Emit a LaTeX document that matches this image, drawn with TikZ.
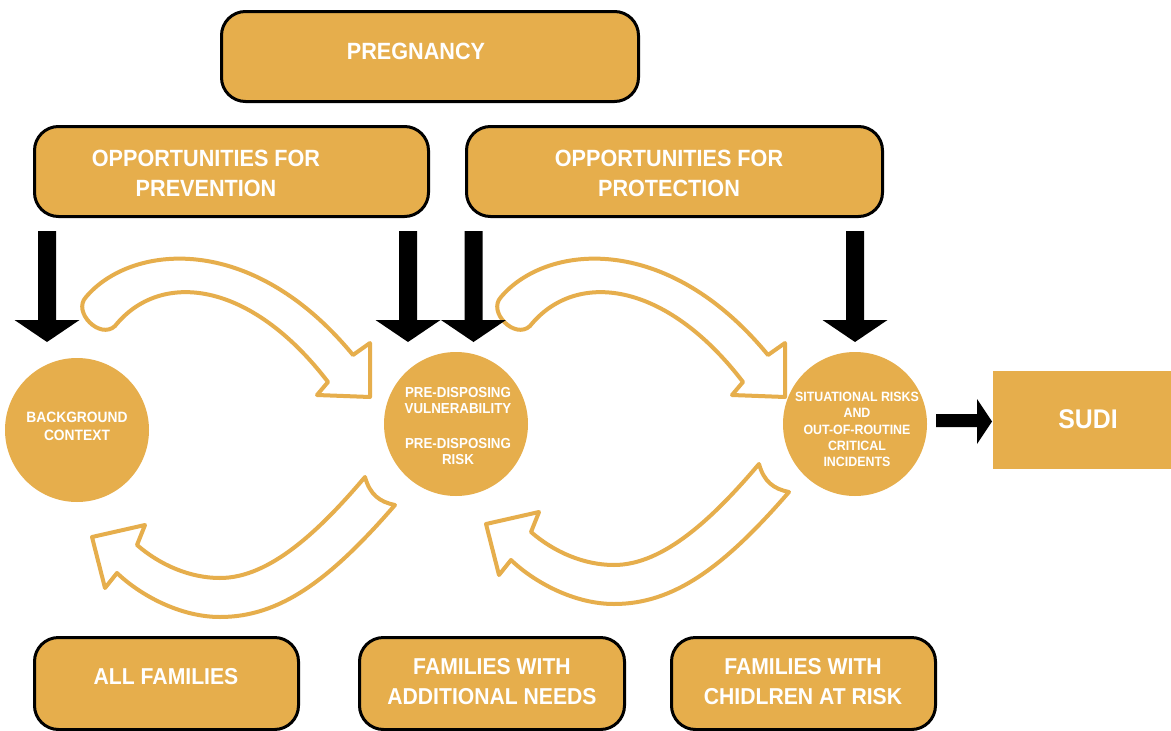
\documentclass[tikz,border=0pt]{standalone}
\usepackage{fontspec}
\setmainfont{Liberation Sans}[FakeStretch=0.92]
\definecolor{gold}{RGB}{230,174,76}
\begin{document}
\begin{tikzpicture}[x=1pt,y=-1pt,
  box/.style={draw=black, line width=3pt, fill=gold, rounded corners=24pt, inner sep=0pt},
  disc/.style={circle, fill=gold, minimum size=144pt, inner sep=0pt},
  flat/.style={fill=gold, inner sep=0pt},
  bigtxt/.style={text=white, align=center, inner sep=0pt, font=\bfseries\fontsize{23.5}{29.5}\selectfont},
  smalltxt/.style={text=white, align=center, inner sep=0pt, font=\bfseries\fontsize{15}{18}\selectfont},
  hollow/.style={draw=gold, fill=white, line width=4pt, line join=round},
  toparr/.pic={\draw[hollow] (86,297) .. controls (130,245) and (250,230) .. (353,355) -- (370,343) -- (370,397) -- (317,395) -- (328,382) .. controls (250,280) and (160,270) .. (115,326) .. controls (100,340) and (72,312) .. (86,297) -- cycle;},
  botarr/.pic={\draw[hollow] (365,477) .. controls (370,495) and (380,502) .. (395,505) .. controls (330,580) and (280,617) .. (220,617) .. controls (180,617) and (140,595) .. (117,573) -- (105,588) -- (92,537) -- (145,525) -- (137,545) .. controls (160,565) and (190,578) .. (220,578) .. controls (270,578) and (320,530) .. (365,477) -- cycle;},
  downarr/.pic={\fill[black] (-9,0) -- (9,0) -- (9,89) -- (32.5,89) -- (0,111) -- (-32.5,89) -- (-9,89) -- cycle;}
]
\useasboundingbox (0,0) rectangle (1171,731);
\fill[white] (0,0) rectangle (1171,731);

% boxes
\node[box, minimum width=417pt, minimum height=90pt] (preg) at (430,56.5) {};
\node[box, minimum width=394pt, minimum height=90pt] (prev) at (231.5,171.5) {};
\node[box, minimum width=416pt, minimum height=90pt] (prot) at (674.5,171.5) {};
\node[box, minimum width=264pt, minimum height=92pt] (allf) at (166.5,683.5) {};
\node[box, minimum width=265pt, minimum height=92pt] (addn) at (492,683.5) {};
\node[box, minimum width=264pt, minimum height=92pt] (risk) at (803.5,683.5) {};
\node[flat, minimum width=190pt, minimum height=98pt] (sudi) at (1088,420) {};

% texts
\node[bigtxt] (tpreg) at (416,51) {PREGNANCY};
\node[bigtxt] (tprev) at (206,173.5) {OPPORTUNITIES FOR\\PREVENTION};
\node[bigtxt] (tprot) at (669,173.5) {OPPORTUNITIES FOR\\PROTECTION};
\node[bigtxt, font=\bfseries\fontsize{23}{30}\selectfont] (tallf) at (166,677) {ALL FAMILIES};
\node[bigtxt, font=\bfseries\fontsize{23}{30}\selectfont] (taddn) at (492,682) {FAMILIES WITH\\ADDITIONAL NEEDS};
\node[bigtxt, font=\bfseries\fontsize{23}{30}\selectfont] (trisk) at (803,682) {FAMILIES WITH\\CHIDLREN AT RISK};
\node[bigtxt, font=\bfseries\fontsize{27}{30}\selectfont] (tsudi) at (1088,419) {SUDI};

% circles
\node[disc] (bg) at (77,430) {};
\node[disc] (pd) at (456,424) {};
\node[disc] (sr) at (855,424) {};
\node[smalltxt] (tbg) at (77,426) {BACKGROUND\\CONTEXT};
\node[smalltxt, font=\bfseries\fontsize{14.5}{16.5}\selectfont] (tpd) at (458,426) {PRE-DISPOSING\\VULNERABILITY\\[18pt]PRE-DISPOSING\\RISK};
\node[smalltxt, font=\bfseries\fontsize{13.5}{16.3}\selectfont] (tsr) at (857,429.5) {SITUATIONAL RISKS\\AND\\OUT-OF-ROUTINE\\CRITICAL\\INCIDENTS};

% curved hollow arrows
\pic at (0,0) {toparr};
\pic at (415,0) {toparr};
\pic at (0,0) {botarr};
\pic at (394,-13) {botarr};

% black arrows
\pic at (47,231) {downarr};
\pic at (408,231) {downarr};
\pic at (473.5,231) {downarr};
\pic at (855,231) {downarr};
\coordinate (sa) at (936,420.5);
\fill[black] (sa) ++(0,-6.5) -- ++(41,0) -- ++(0,-15) -- (992,421.5) -- (977,444) -- (977,427) -- (936,427) -- cycle;
\end{tikzpicture}
\end{document}
